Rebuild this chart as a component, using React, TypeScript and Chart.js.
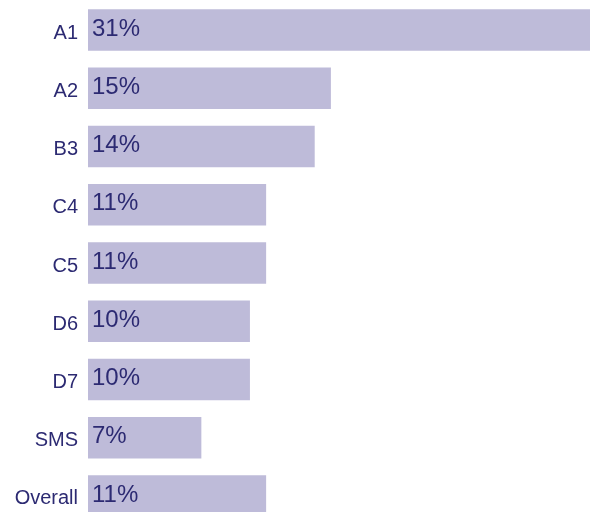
import React, { useEffect, useRef } from "react";
import { Chart, registerables } from "chart.js";

Chart.register(...registerables);

const categories = ["A1", "A2", "B3", "C4", "C5", "D6", "D7", "SMS", "Overall"];
const values = [31, 15, 14, 11, 11, 10, 10, 7, 11];
const valueLabels = ["31%", "15%", "14%", "11%", "11%", "10%", "10%", "7%", "11%"];

const BAR_COLOR = "#bebbd9";
const TEXT_COLOR = "#2c2a72";
const FONT = "'Liberation Sans', Arial, Helvetica, sans-serif";

const valueLabelPlugin = {
  id: "valueLabels",
  afterDatasetsDraw(chart: any) {
    const ctx = chart.ctx;
    const meta = chart.getDatasetMeta(0);
    ctx.save();
    ctx.fillStyle = TEXT_COLOR;
    ctx.font = `24px ${FONT}`;
    ctx.textAlign = "left";
    ctx.textBaseline = "middle";
    meta.data.forEach((bar: any, i: number) => {
      const props = bar.getProps(["x", "y", "base"], true);
      ctx.fillText(valueLabels[i], props.base + 4, props.y - 1);
    });
    ctx.restore();
  },
};

export default function App() {
  const ref = useRef<HTMLCanvasElement | null>(null);

  useEffect(() => {
    if (!ref.current) return;
    const chart = new Chart(ref.current, {
      type: "bar",
      data: {
        labels: categories,
        datasets: [
          {
            data: values,
            backgroundColor: BAR_COLOR,
            borderWidth: 0,
            categoryPercentage: 1,
            barPercentage: 0.713,
          },
        ],
      },
      options: {
        indexAxis: "y",
        animation: false,
        responsive: false,
        layout: { padding: { top: 1, left: 0, right: 0, bottom: 0 } },
        plugins: {
          legend: { display: false },
          tooltip: { enabled: false },
        },
        scales: {
          x: {
            display: false,
            min: 0,
            max: 31,
          },
          y: {
            type: "category",
            grid: { display: false, drawTicks: false },
            border: { display: false },
            ticks: {
              color: TEXT_COLOR,
              font: { family: FONT, size: 20 },
              padding: 10,
              labelOffset: 3,
              autoSkip: false,
            },
            afterFit(scale: any) {
              scale.width = 88;
              scale.paddingTop = 0;
              scale.paddingBottom = 0;
            },
          },
        },
      },
      plugins: [valueLabelPlugin],
    });
    return () => chart.destroy();
  }, []);

  return (
    <div
      style={{
        position: "absolute",
        top: 0,
        left: 0,
        width: 590,
        height: 512,
        overflow: "hidden",
        background: "#ffffff",
      }}
    >
      <canvas ref={ref} width={590} height={525} style={{ display: "block" }} />
    </div>
  );
}
